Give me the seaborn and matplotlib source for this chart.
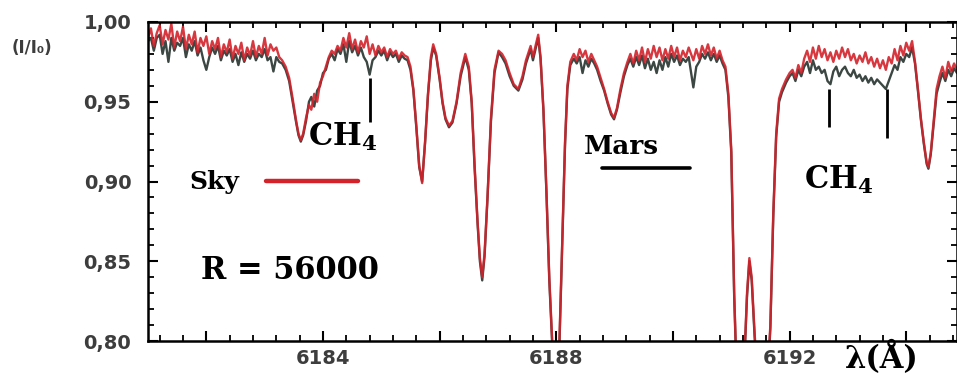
import numpy as np
import pandas as pd
import matplotlib
matplotlib.use('Agg')
import matplotlib.pyplot as plt
import seaborn as sns
from matplotlib.ticker import MultipleLocator, FuncFormatter
from matplotlib.lines import Line2D

# Wavelength grid (Angstrom)
wavelength = [
    # continuum, left
    6181.00, 6181.05, 6181.10, 6181.15, 6181.20, 6181.25, 6181.30, 6181.35, 6181.40, 6181.45,
    6181.50, 6181.55, 6181.60, 6181.65, 6181.70, 6181.75, 6181.80, 6181.85, 6181.90, 6181.95,
    6182.00, 6182.05, 6182.10, 6182.15, 6182.20, 6182.25, 6182.30, 6182.35, 6182.40, 6182.45,
    6182.50, 6182.55, 6182.60, 6182.65, 6182.70, 6182.75, 6182.80, 6182.85, 6182.90, 6182.95,
    6183.00, 6183.05, 6183.10, 6183.15, 6183.20, 6183.25,
    # line at 6183.6
    6183.30, 6183.36, 6183.42, 6183.48, 6183.54, 6183.58, 6183.62, 6183.66, 6183.71, 6183.76,
    6183.80, 6183.85, 6183.90, 6183.95, 6184.00,
    # continuum with CH4
    6184.05, 6184.10, 6184.15, 6184.20, 6184.25, 6184.30, 6184.35, 6184.40, 6184.45, 6184.50,
    6184.55, 6184.60, 6184.65, 6184.70, 6184.75, 6184.80, 6184.85, 6184.90, 6184.95, 6185.00,
    6185.05, 6185.10, 6185.15, 6185.20, 6185.25, 6185.30, 6185.35, 6185.40, 6185.45,
    # strong lines 6185.7 - 6188.0
    6185.50, 6185.55, 6185.60, 6185.65, 6185.70, 6185.75, 6185.80, 6185.85, 6185.89, 6185.94,
    6186.00, 6186.05, 6186.10, 6186.16, 6186.22, 6186.29, 6186.36, 6186.44, 6186.50, 6186.55,
    6186.60, 6186.65, 6186.69, 6186.73, 6186.77, 6186.82, 6186.88, 6186.94,
    6187.01, 6187.07, 6187.13, 6187.20, 6187.27, 6187.35, 6187.42, 6187.48, 6187.56, 6187.60,
    6187.65, 6187.69, 6187.73, 6187.78, 6187.83, 6187.88, 6187.93, 6187.99,
    6188.05, 6188.10, 6188.15, 6188.19, 6188.24,
    # continuum
    6188.30, 6188.35, 6188.40, 6188.45, 6188.50, 6188.55, 6188.60, 6188.65, 6188.70,
    # line at 6189.0
    6188.76, 6188.82, 6188.88, 6188.94, 6188.99, 6189.04, 6189.10, 6189.16, 6189.22,
    # continuum
    6189.27, 6189.32, 6189.37, 6189.42, 6189.47, 6189.52, 6189.57, 6189.62, 6189.67, 6189.72,
    6189.77, 6189.82, 6189.87, 6189.92, 6189.97, 6190.02, 6190.07, 6190.12, 6190.17, 6190.22,
    6190.27, 6190.32, 6190.35, 6190.40, 6190.45, 6190.50, 6190.55, 6190.60, 6190.65, 6190.70,
    6190.75, 6190.80, 6190.85, 6190.90,
    # deep doublet 6191.1 - 6191.6
    6190.95, 6191.00, 6191.05, 6191.10, 6191.16, 6191.22, 6191.27, 6191.31, 6191.35, 6191.40,
    6191.46, 6191.55, 6191.62, 6191.67, 6191.72, 6191.77, 6191.82, 6191.87, 6191.94, 6192.00,
    # continuum with CH4
    6192.05, 6192.10, 6192.15, 6192.20, 6192.25, 6192.30, 6192.35, 6192.40, 6192.45, 6192.50,
    6192.55, 6192.60, 6192.65, 6192.70, 6192.75, 6192.80, 6192.85, 6192.90, 6192.95, 6193.00,
    6193.05, 6193.10, 6193.15, 6193.20, 6193.25, 6193.30, 6193.35, 6193.40, 6193.45, 6193.50,
    6193.55, 6193.60, 6193.65, 6193.70, 6193.75, 6193.80, 6193.85, 6193.90, 6193.95, 6194.00,
    6194.05, 6194.10,
    # line at 6194.4
    6194.15, 6194.20, 6194.25, 6194.30, 6194.35, 6194.38, 6194.42, 6194.47, 6194.52, 6194.57,
    6194.62, 6194.67, 6194.72, 6194.77, 6194.82, 6194.87,
]

sky = [
    0.990, 0.996, 0.985, 0.993, 0.998, 0.986, 0.995, 0.989, 0.999, 0.984,
    0.994, 0.988, 0.997, 0.983, 0.992, 0.986, 0.994, 0.981, 0.990, 0.985,
    0.991, 0.980, 0.988, 0.983, 0.990, 0.978, 0.986, 0.981, 0.989, 0.977,
    0.985, 0.980, 0.987, 0.976, 0.984, 0.979, 0.988, 0.978, 0.985, 0.980,
    0.990, 0.979, 0.986, 0.982, 0.984, 0.978,
    0.976, 0.972, 0.965, 0.952, 0.938, 0.930, 0.926, 0.930, 0.940, 0.948,
    0.945, 0.955, 0.950, 0.962, 0.966,
    0.972, 0.978, 0.982, 0.980, 0.985, 0.982, 0.990, 0.984, 0.993, 0.983,
    0.989, 0.981, 0.988, 0.984, 0.991, 0.980, 0.986, 0.979, 0.985, 0.981,
    0.984, 0.978, 0.983, 0.980, 0.982, 0.977, 0.981, 0.979, 0.978,
    0.972, 0.958, 0.935, 0.910, 0.899, 0.925, 0.955, 0.978, 0.986, 0.980,
    0.965, 0.950, 0.940, 0.935, 0.938, 0.950, 0.968, 0.980, 0.972, 0.950,
    0.910, 0.875, 0.852, 0.840, 0.855, 0.890, 0.940, 0.970,
    0.982, 0.980, 0.976, 0.968, 0.961, 0.958, 0.966, 0.976, 0.985, 0.978,
    0.986, 0.992, 0.978, 0.945, 0.895, 0.840, 0.800, 0.770,
    0.795, 0.860, 0.925, 0.960, 0.975,
    0.980, 0.976, 0.983, 0.978, 0.982, 0.975, 0.980, 0.976, 0.972,
    0.965, 0.958, 0.950, 0.943, 0.940, 0.946, 0.958, 0.968, 0.975,
    0.980, 0.974, 0.982, 0.976, 0.984, 0.975, 0.983, 0.977, 0.985, 0.978,
    0.984, 0.976, 0.983, 0.977, 0.985, 0.978, 0.984, 0.976, 0.982, 0.978,
    0.984, 0.979, 0.976, 0.983, 0.977, 0.985, 0.980, 0.986, 0.979, 0.984,
    0.977, 0.982, 0.976, 0.972,
    0.955, 0.920, 0.830, 0.770, 0.760, 0.785, 0.830, 0.852, 0.840, 0.805,
    0.770, 0.760, 0.775, 0.810, 0.880, 0.930, 0.952, 0.958, 0.964, 0.968,
    0.970, 0.965, 0.973, 0.968, 0.977, 0.982, 0.975, 0.984, 0.977, 0.985,
    0.978, 0.983, 0.976, 0.981, 0.975, 0.982, 0.977, 0.984, 0.978, 0.983,
    0.976, 0.980, 0.974, 0.979, 0.975, 0.981, 0.974, 0.978, 0.972, 0.977,
    0.971, 0.976, 0.970, 0.978, 0.974, 0.983, 0.976, 0.985, 0.979, 0.987,
    0.982, 0.988,
    0.975, 0.958, 0.940, 0.925, 0.912, 0.909, 0.918, 0.938, 0.958, 0.966,
    0.972, 0.965, 0.975, 0.969, 0.974, 0.970,
]

mars = [
    0.988, 0.990, 0.982, 0.990, 0.992, 0.980, 0.988, 0.975, 0.990, 0.982,
    0.987, 0.985, 0.990, 0.978, 0.986, 0.982, 0.988, 0.979, 0.984, 0.976,
    0.970, 0.978, 0.984, 0.980, 0.985, 0.976, 0.982, 0.979, 0.983, 0.975,
    0.980, 0.973, 0.981, 0.975, 0.980, 0.977, 0.982, 0.976, 0.980, 0.978,
    0.983, 0.976, 0.978, 0.969, 0.978, 0.975,
    0.974, 0.970, 0.963, 0.950, 0.937, 0.929, 0.925, 0.929, 0.938, 0.950,
    0.953, 0.947, 0.957, 0.960, 0.968,
    0.970, 0.977, 0.980, 0.976, 0.983, 0.980, 0.986, 0.975, 0.988, 0.981,
    0.985, 0.979, 0.984, 0.978, 0.975, 0.967, 0.976, 0.978, 0.982, 0.979,
    0.982, 0.976, 0.981, 0.978, 0.980, 0.975, 0.979, 0.977, 0.976,
    0.970, 0.957, 0.934, 0.909, 0.900, 0.924, 0.954, 0.976, 0.984, 0.979,
    0.964, 0.949, 0.939, 0.934, 0.937, 0.949, 0.966, 0.978, 0.970, 0.949,
    0.908, 0.874, 0.850, 0.838, 0.853, 0.889, 0.938, 0.968,
    0.981, 0.978, 0.974, 0.966, 0.960, 0.957, 0.964, 0.974, 0.983, 0.976,
    0.984, 0.990, 0.977, 0.944, 0.894, 0.838, 0.798, 0.768,
    0.793, 0.858, 0.923, 0.958, 0.973,
    0.977, 0.974, 0.978, 0.968, 0.976, 0.972, 0.977, 0.974, 0.970,
    0.963, 0.957, 0.949, 0.942, 0.939, 0.945, 0.956, 0.966, 0.973,
    0.977, 0.972, 0.978, 0.973, 0.979, 0.971, 0.977, 0.970, 0.975, 0.968,
    0.976, 0.970, 0.978, 0.972, 0.980, 0.975, 0.979, 0.973, 0.977, 0.975,
    0.978, 0.966, 0.959, 0.972, 0.975, 0.980, 0.977, 0.981, 0.976, 0.980,
    0.975, 0.979, 0.974, 0.970,
    0.953, 0.918, 0.828, 0.768, 0.758, 0.783, 0.828, 0.850, 0.838, 0.803,
    0.768, 0.758, 0.773, 0.808, 0.878, 0.928, 0.950, 0.956, 0.962, 0.966,
    0.968, 0.963, 0.970, 0.966, 0.972, 0.975, 0.968, 0.976, 0.970, 0.972,
    0.968, 0.970, 0.963, 0.961, 0.969, 0.972, 0.966, 0.970, 0.972, 0.968,
    0.966, 0.970, 0.965, 0.967, 0.963, 0.966, 0.962, 0.965, 0.961, 0.964,
    0.962, 0.960, 0.958, 0.963, 0.968, 0.973, 0.970, 0.978, 0.975, 0.980,
    0.978, 0.984,
    0.974, 0.957, 0.939, 0.924, 0.911, 0.908, 0.917, 0.936, 0.955, 0.962,
    0.968, 0.963, 0.970, 0.966, 0.971, 0.968,
]

# CH4 marker positions (Angstrom) and their vertical extent
ch4_lines = [6184.80, 6192.68, 6193.67]
ch4_top = [0.965, 0.958, 0.958]
ch4_bottom = [0.937, 0.934, 0.927]

df = pd.DataFrame({'wavelength': wavelength, 'Sky': sky, 'Mars': mars})

sns.set_style('ticks')
plt.rcParams['mathtext.fontset'] = 'dejavuserif'

fig = plt.figure(figsize=(9.57, 3.73), dpi=100)
ax = fig.add_axes([148 / 957, 32 / 373, 809 / 957, 319 / 373])

sns.lineplot(data=df, x='wavelength', y='Mars', color='#3c4744', linewidth=1.7, ax=ax)
sns.lineplot(data=df, x='wavelength', y='Sky', color='#d3222a', linewidth=1.7, alpha=0.9, ax=ax)

ax.vlines(ch4_lines, ch4_bottom, ch4_top, color='black', linewidth=2)

ax.set_xlim(6181.0, 6194.87)
ax.set_ylim(0.80, 1.00)
ax.set_xlabel('')
ax.set_ylabel('')

ax.xaxis.set_major_locator(MultipleLocator(2))
ax.xaxis.set_minor_locator(MultipleLocator(0.4))
ax.yaxis.set_major_locator(MultipleLocator(0.05))
ax.yaxis.set_minor_locator(MultipleLocator(0.01))
ax.xaxis.set_major_formatter(FuncFormatter(lambda v, p: f'{v:.0f}' if round(v) % 4 == 0 else ''))
ax.yaxis.set_major_formatter(FuncFormatter(lambda v, p: f'{v:.2f}'.replace('.', ',')))

ax.tick_params(which='both', direction='in', top=True, right=True, color='black')
ax.tick_params(which='major', length=7, width=1.5)
ax.tick_params(which='minor', length=4, width=1.3)
ax.tick_params(axis='y', pad=12)
ax.tick_params(axis='x', pad=6)
for lab in ax.get_xticklabels() + ax.get_yticklabels():
    lab.set_fontfamily('DejaVu Sans')
    lab.set_fontweight('bold')
    lab.set_fontsize(14)
    lab.set_color('#3d3d3d')
for s in ax.spines.values():
    s.set_linewidth(1.8)
    s.set_color('black')

serif = dict(family='DejaVu Serif', fontweight='bold', color='black')
ax.text(6183.75, 0.928, r'$\mathbf{CH}_{\mathbf{4}}$', fontsize=22, ha='left', va='center', **serif)
ax.text(6192.24, 0.901, r'$\mathbf{CH}_{\mathbf{4}}$', fontsize=22, ha='left', va='center', **serif)
ax.text(6181.71, 0.900, 'Sky', fontsize=18, ha='left', va='center', **serif)
ax.text(6188.47, 0.922, 'Mars', fontsize=19, ha='left', va='center', **serif)
ax.text(6181.91, 0.8445, 'R = 56000', fontsize=22, ha='left', va='center', **serif)
ax.text(0.862, -0.084, 'λ(Å)', transform=ax.transAxes, fontsize=22, ha='left', va='baseline', **serif)

# legend keys
ax.add_line(Line2D([6183.02, 6184.60], [0.9003, 0.9003], color='#d3222a', linewidth=3.2))
ax.add_line(Line2D([6188.79, 6190.30], [0.9085, 0.9085], color='black', linewidth=2.6))

fig.text(12 / 957, 1 - 48 / 373, '(I/I₀)', fontsize=12, fontweight='bold', color='#3d3d3d',
         family='DejaVu Sans', ha='left', va='center')

fig.savefig('out.png', dpi=100)
